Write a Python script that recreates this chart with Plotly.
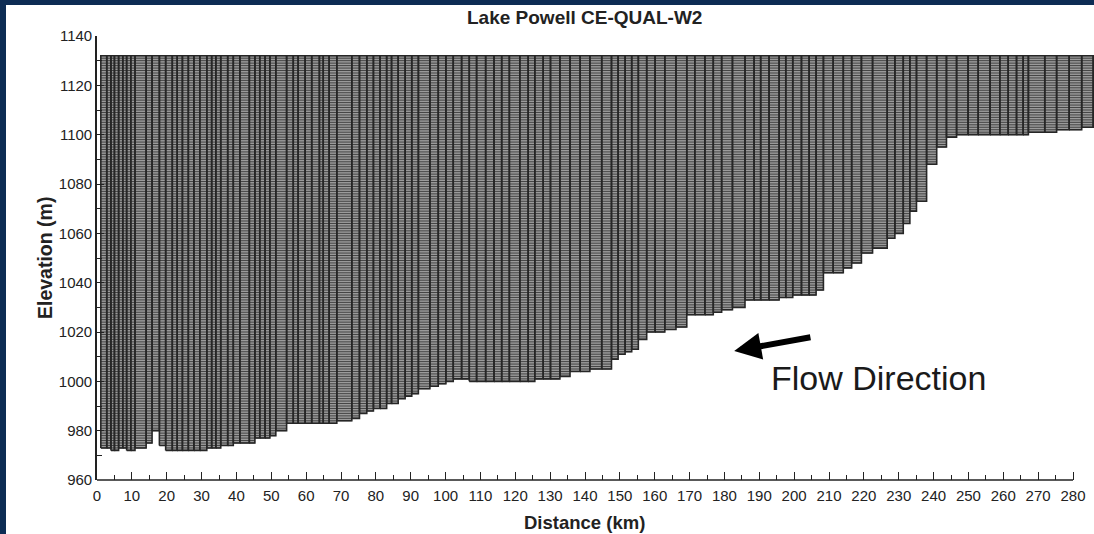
import plotly.graph_objects as go

# ---------------- data ----------------
# segment boundaries along the reservoir (km)
seg_edges_km = [1.1, 2.8, 4.0, 5.0, 6.2, 7.4, 8.5, 9.7, 10.9, 14.1, 15.8, 17.9, 19.7, 21.6,
                23.0, 24.5, 26.2, 27.8, 29.5, 31.5, 32.9, 34.1, 35.5, 37.5, 39.1, 41.0, 43.7,
                45.3, 46.7, 48.2, 49.6, 51.3, 54.4, 56.3, 57.7, 59.7, 61.6, 63.8, 64.9, 66.6,
                68.8, 73.1, 75.3, 77.4, 79.3, 81.2, 83.1, 84.5, 86.4, 88.4, 90.3, 92.2, 95.5,
                97.9, 100.1, 102.2, 104.6, 106.8, 108.9, 111.5, 113.9, 116.1, 118.3, 121.3,
                123.7, 125.6, 128.0, 130.1, 132.8, 135.7, 138.6, 141.4, 144.8, 147.6, 149.5,
                151.5, 153.4, 155.3, 157.7, 160.1, 162.9, 166.1, 169.2, 171.5, 174.4, 176.8,
                179.2, 182.3, 185.9, 188.5, 190.4, 192.8, 195.7, 197.6, 199.6, 202.1, 204.3,
                206.3, 208.4, 211.2, 214.1, 216.5, 219.3, 222.5, 226.7, 228.9, 231.3, 233.2,
                235.1, 238.0, 240.9, 243.7, 246.6, 249.9, 252.8, 256.2, 259.0, 261.4, 263.8,
                265.7, 267.2, 271.9, 275.3, 278.9, 282.5, 285.8, 289.0]

# bottom elevation of each segment (m)
seg_bottom_m = [973, 973, 972, 972, 973, 973, 972, 972, 973, 975, 980, 974, 972, 972,
                972, 972, 972, 972, 972, 973, 973, 973, 974, 974, 975, 975, 975,
                977, 977, 977, 978, 980, 983, 983, 983, 983, 983, 983, 983, 983,
                984, 985, 987, 988, 989, 989, 991, 991, 993, 994, 995, 997,
                998, 999, 1000, 1001, 1001, 1000, 1000, 1000, 1000, 1000, 1000, 1000,
                1000, 1001, 1001, 1001, 1002, 1004, 1004, 1005, 1005, 1009, 1011,
                1012, 1013, 1017, 1020, 1020, 1021, 1022, 1027, 1027, 1027, 1028,
                1029, 1030, 1033, 1033, 1033, 1033, 1034, 1034, 1035, 1035, 1035,
                1037, 1044, 1044, 1046, 1048, 1052, 1054, 1058, 1060, 1064,
                1069, 1073, 1088, 1095, 1099, 1100, 1100, 1100, 1100, 1100, 1100,
                1100, 1100, 1101, 1101, 1102, 1102, 1103, 1103]

water_top_m = 1132          # top of the model grid (m)
layer_thickness_m = 1       # layer thickness (m)

x_tick_vals = list(range(0, 281, 10))
x_minor_vals = list(range(5, 280, 10))
y_tick_vals = list(range(960, 1141, 20))
y_minor_vals = list(range(970, 1140, 20))

assert len(seg_edges_km) == len(seg_bottom_m) + 1

# ---------------- build geometry from data ----------------
fill_x, fill_y = [], []
for i, b in enumerate(seg_bottom_m):
    x0, x1 = seg_edges_km[i], seg_edges_km[i + 1]
    fill_x += [x0, x1, x1, x0, x0, None]
    fill_y += [b, b, water_top_m, water_top_m, b, None]

layer_x, layer_y = [], []
z = min(seg_bottom_m) + layer_thickness_m
while z < water_top_m:
    run_start = None
    for i, b in enumerate(seg_bottom_m):
        inside = b <= z
        if inside and run_start is None:
            run_start = seg_edges_km[i]
        if (not inside) and run_start is not None:
            layer_x += [run_start, seg_edges_km[i], None]
            layer_y += [z, z, None]
            run_start = None
    if run_start is not None:
        layer_x += [run_start, seg_edges_km[-1], None]
        layer_y += [z, z, None]
    z += layer_thickness_m

fig = go.Figure()
fig.add_trace(go.Scatter(x=fill_x, y=fill_y, mode="lines", fill="toself",
                         fillcolor="#9b9b9b", line=dict(width=0), hoverinfo="skip",
                         showlegend=False))
fig.add_trace(go.Scatter(x=layer_x, y=layer_y, mode="lines",
                         line=dict(color="#3a3a3a", width=0.9), hoverinfo="skip",
                         showlegend=False))
fig.add_trace(go.Scatter(x=fill_x, y=fill_y, mode="lines",
                         line=dict(color="#262626", width=1.6), hoverinfo="skip",
                         showlegend=False))

W, H = 1094, 534
L, R, T, B = 97, 0, 36, 54
pw, ph = W - L - R, H - T - B
navy = "#0d2c54"


def px2paper_x(px):
    return (px - L) / pw


def px2paper_y(py):
    return (H - B - py) / ph


font_family = "Liberation Sans, Arial, sans-serif"
tick_font = dict(size=15, color="#222222", family=font_family)

fig.update_layout(
    width=W, height=H,
    margin=dict(l=L, r=R, t=T, b=B, pad=0),
    paper_bgcolor="white", plot_bgcolor="white",
    showlegend=False,
    font=dict(family=font_family, color="#222222", size=15),
    xaxis=dict(range=[0, (W - L) / (976 / 280)], showgrid=False, zeroline=False,
               showline=False, ticks="inside", ticklen=8, tickwidth=1.3,
               tickcolor="#222222", tickmode="array", tickvals=x_tick_vals,
               ticktext=[str(v) for v in x_tick_vals], tickfont=tick_font,
               ticklabelstandoff=5,
               minor=dict(tickmode="array", tickvals=x_minor_vals, ticks="inside",
                          ticklen=5, tickwidth=1.1, tickcolor="#222222", showgrid=False),
               fixedrange=True),
    yaxis=dict(range=[960, 1140], showgrid=False, zeroline=False, showline=True,
               linecolor="#222222", linewidth=1.6, ticks="inside", ticklen=7,
               tickwidth=1.3, tickcolor="#222222", tickmode="array",
               tickvals=y_tick_vals, tickfont=tick_font,
               minor=dict(tickmode="array", tickvals=y_minor_vals, ticks="inside",
                          ticklen=5, tickwidth=1.1, tickcolor="#222222", showgrid=False),
               fixedrange=True),
    shapes=[
        # bottom axis line (ends at 280 km as in the original)
        dict(type="line", xref="x", yref="paper", x0=0, x1=280, y0=0, y1=0,
             line=dict(color="#222222", width=1.6)),
        # navy frame (top and left bands of the slide)
        dict(type="rect", xref="paper", yref="paper", x0=px2paper_x(0), x1=px2paper_x(W),
             y0=px2paper_y(5), y1=px2paper_y(-2), fillcolor=navy, line=dict(width=0),
             layer="above"),
        dict(type="rect", xref="paper", yref="paper", x0=px2paper_x(-2), x1=px2paper_x(6),
             y0=px2paper_y(H + 2), y1=px2paper_y(-2), fillcolor=navy, line=dict(width=0),
             layer="above"),
    ],
    annotations=[
        dict(text="<b>Lake Powell CE-QUAL-W2</b>", xref="paper", yref="paper",
             x=px2paper_x(584), y=px2paper_y(17), showarrow=False,
             xanchor="center", yanchor="middle",
             font=dict(size=19, color="#222222", family=font_family)),
        dict(text="<b>Distance (km)</b>", xref="paper", yref="paper",
             x=px2paper_x(584), y=px2paper_y(522), showarrow=False,
             xanchor="center", yanchor="middle",
             font=dict(size=18.5, color="#222222", family=font_family)),
        dict(text="<b>Elevation (m)</b>", xref="paper", yref="paper",
             x=px2paper_x(45), y=px2paper_y(258), showarrow=False, textangle=-90,
             xanchor="center", yanchor="middle",
             font=dict(size=19.5, color="#222222", family=font_family)),
        dict(text="Flow Direction", xref="x", yref="y", x=224.1, y=1001.3,
             showarrow=False, xanchor="center", yanchor="middle",
             font=dict(size=34, color="#1a1a1a", family=font_family)),
        dict(text="", xref="x", yref="y", x=182.8, y=1012.3,
             axref="x", ayref="y", ax=205.1, ay=1018.0, showarrow=True,
             arrowhead=2, arrowsize=0.9, arrowwidth=6, arrowcolor="#000000",
             standoff=0, startstandoff=0),
    ],
)

fig.write_html("out.html")
